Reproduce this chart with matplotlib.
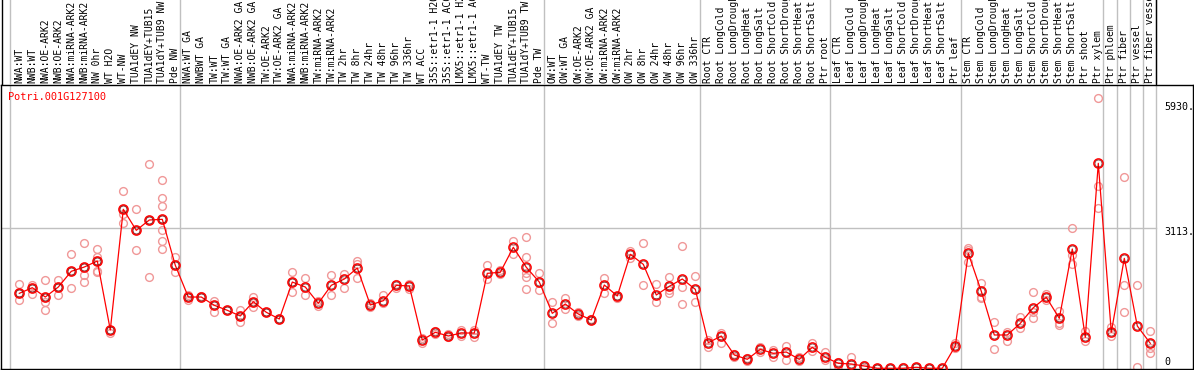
import numpy as np
import matplotlib
matplotlib.use("Agg")
import matplotlib.pyplot as plt

gene = "Potri.001G127100"

labels = [
    "NWA:WT", "NWB:WT", "NWA:OE-ARK2", "NWB:OE-ARK2", "NWA:miRNA-ARK2", "NWB:miRNA-ARK2",
    "NW 0hr", "WT H2O", "WT-NW", "TUA1dEY NW", "TUA1dEY+TUB15", "TUA1dY+TUB9 NW", "Pde NW",
    "NWA:WT GA", "NWBWT GA", "TW:WT", "TW:WT GA", "NWA:OE-ARK2 GA", "NWB:OE-ARK2 GA",
    "TW:OE-ARK2", "TW:OE-ARK2 GA", "NWA:miRNA-ARK2", "NWB:miRNA-ARK2", "TW:miRNA-ARK2",
    "TW:miRNA-ARK2", "TW 2hr", "TW 8hr", "TW 24hr", "TW 48hr", "TW 96hr", "TW 336hr",
    "WT ACC", "35S::etr1-1 H2O", "35S::etr1-1 ACC", "LMX5::etr1-1 H2O", "LMX5::etr1-1 ACC",
    "WT-TW", "TUA1dEY TW", "TUA1dEY+TUB15", "TUA1dY+TUB9 TW", "Pde TW",
    "OW:WT", "OW:WT GA", "OW:OE-ARK2", "OW:OE-ARK2 GA", "OW:miRNA-ARK2", "OW:miRNA-ARK2",
    "OW 2hr", "OW 8hr", "OW 24hr", "OW 48hr", "OW 96hr", "OW 336hr",
    "Root CTR", "Root LongCold", "Root LongDrought", "Root LongHeat", "Root LongSalt",
    "Root ShortCold", "Root ShortDrought", "Root ShortHeat", "Root ShortSalt", "Ptr root",
    "Leaf CTR", "Leaf LongCold", "Leaf LongDrought", "Leaf LongHeat", "Leaf LongSalt",
    "Leaf ShortCold", "Leaf ShortDrought", "Leaf ShortHeat", "Leaf ShortSalt", "Ptr leaf",
    "Stem CTR", "Stem LongCold", "Stem LongDrought", "Stem LongHeat", "Stem LongSalt",
    "Stem ShortCold", "Stem ShortDrought", "Stem ShortHeat", "Stem ShortSalt",
    "Ptr shoot", "Ptr xylem", "Ptr phloem", "Ptr fiber", "Ptr vessel", "Ptr fiber vessel",
]

means = [
    1669, 1794, 1587, 1809, 2158, 2253, 2387, 855, 3534, 3068, 3297, 3312, 2291,
    1587, 1587, 1403, 1292, 1166, 1483, 1248, 1099, 1920, 1809, 1447, 1847, 1987,
    2231, 1410, 1505, 1847, 1832, 633, 804, 722, 788, 788, 2113, 2136, 2691, 2247, 1920,
    1225, 1432, 1210, 1077, 1854, 1610, 2535, 2313, 1632, 1825, 1987, 1758,
    573, 722, 300, 204, 426, 337, 366, 204, 471, 249,
    115, 100, 55, 5, 5, 5, 27, 5, 5, 500,
    2557, 1714, 744, 744, 1003, 1350, 1581, 1114, 2653, 693,
    4555, 804, 2446, 944, 559,
]

reps = [
    [1869, 1669, 1514], [1860, 1794, 1661], [1965, 1587, 1476, 1292], [1965, 1809, 1625],
    [2535, 2158, 1780], [2786, 2253, 2076, 1914], [2646, 2469, 2387, 2171, 2136], [855, 781],
    [3934, 3534, 3423, 3223], [3534, 3068, 2624], [4540, 3297, 2031],
    [4178, 3778, 3614, 3312, 3068, 2831, 2646], [2469, 2291, 2142],
    [1632, 1587, 1527], [1587, 1600], [1505, 1403, 1254], [1292, 1300], [1292, 1166, 1032],
    [1587, 1483, 1365], [1248, 1260], [1099, 1110], [2142, 1920, 1692], [2002, 1625],
    [1499, 1394], [2069, 1625], [2098, 1780], [2393, 2327, 2016], [1447, 1372],
    [1632, 1447], [1883, 1794], [1869, 1758], [670, 573], [839, 759], [759, 693],
    [855, 715], [855, 706], [2298, 1980], [2187, 2098], [2837, 2542],
    [2913, 2469, 2113, 2038, 1758], [2113, 1736],
    [1470, 1003], [1558, 1314], [1261, 1166], [1077, 1090], [2009, 1669], [1558, 1620],
    [2615, 2460], [2779, 1847], [1869, 1483], [2025, 1743, 1683], [2713, 1803, 1425],
    [2054, 1470],
    [633, 484], [795, 559], [322, 262], [226, 173], [471, 373], [411, 249], [500, 189],
    [262, 173], [573, 395], [360, 189],
    [151, 55], [249, 5], [78, 5], [5, 5], [5], [40], [27], [5], [5], [559, 448],
    [2668, 2631, 2371], [1891, 1594, 1558], [1026, 426], [817, 617], [1137, 892],
    [1692, 1248, 1114], [1654, 1521], [1283, 1017, 966], [3112, 2520, 2320], [839, 617],
    [5998, 4052, 3570], [915, 722], [4245, 1854, 1248], [1854, 40], [833, 448, 351],
]

separators = [-0.72, 12.36, 40.36, 52.36, 62.36, 72.44, 83.36, 84.4, 85.4, 86.4, 87.4]
ytick_vals = ["5930.", "3113.", "0"]
ytick_px = [107, 232, 362]

W, H = 1194, 370
fig = plt.figure(figsize=(W / 100, H / 100), dpi=100)

# pixel -> data mapping
x0, dx = 19.3, 13.0
y0, dy = 368.5, 0.04504
xlim = ((1 - x0) / dx, (1193 - x0) / dx)

ax = fig.add_axes([1 / W, 1 / H, 1192 / W, 284 / H])
ax.set_xlim(*xlim)
ax.set_ylim((y0 - 369) / dy, (y0 - 85) / dy)
ax.set_xticks([])
ax.set_yticks([])
for s in ax.spines.values():
    s.set_color("black")
    s.set_linewidth(1)

# label strip above the plot
lab = fig.add_axes([1 / W, 285 / H, 1192 / W, 85 / H])
lab.set_xlim(*xlim)
lab.set_ylim(0, 85)
lab.axis("off")

grey = "#c0c0c0"
for s in separators:
    ax.axvline(s, color=grey, lw=1, zorder=0)
    lab.axvline(s, color=grey, lw=1, zorder=0)
lab.axvline(separators[-1], color="black", lw=1)
lab.axvline(xlim[0] + 0.05, color="black", lw=1)

ax.plot([xlim[0], separators[-1]], [3113, 3113], color=grey, lw=1, zorder=0)

xs = np.arange(len(labels))
for i, r in enumerate(reps):
    ax.plot([i] * len(r), r, ls="none", marker="o", ms=5.6, mfc="none",
            mec="#f09898", mew=1.0, zorder=2)

ax.plot(xs, means, color="red", lw=0.9, zorder=3)
ax.plot(xs, means, ls="none", marker="o", ms=6.6, mfc="none", mec="red", mew=1.1, zorder=4)
ax.plot(xs, means, ls="none", marker="o", ms=5.0, mfc="none", mec="#500000", mew=0.4, zorder=5)

mono = "DejaVu Sans Mono"
for i, t in enumerate(labels):
    lab.text(i, 2, t, rotation=90, ha="center", va="bottom", fontsize=7.0,
             family=mono, color="black")

fig.text(8 / W, 1 - 97 / H, gene, color="red", fontsize=7.4, family=mono,
         va="center", ha="left")

for t, py in zip(ytick_vals, ytick_px):
    fig.text(1164 / W, 1 - py / H, t, fontsize=7.2, family=mono, va="center", ha="left")

fig.savefig("out.png", dpi=100)
